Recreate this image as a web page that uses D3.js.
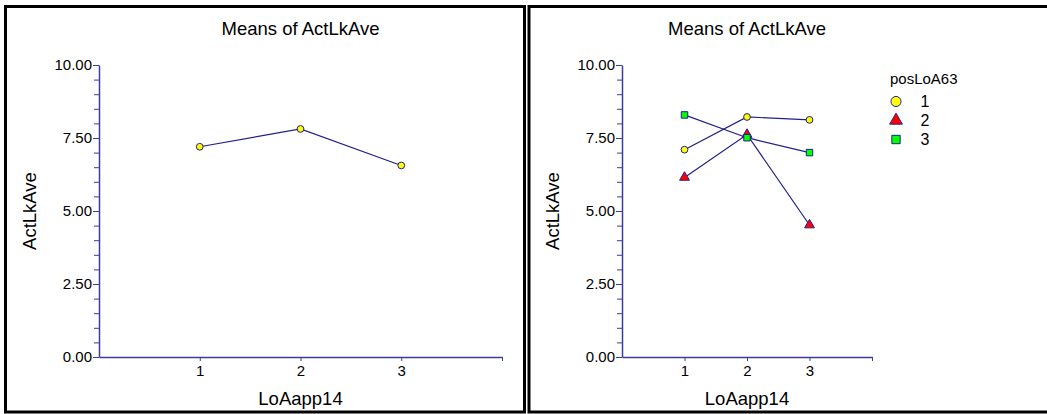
<!DOCTYPE html>
<html>
<head>
<meta charset="utf-8">
<script src="https://cdn.jsdelivr.net/npm/d3@7"></script>
<style>
  html, body { margin: 0; padding: 0; background: #fff; }
  svg { display: block; }
  text { font-family: Arial, "Liberation Sans", sans-serif; fill: #000; }
</style>
</head>
<body>
<script>
// ---- data ----
const categories = [1, 2, 3];
const overallMeans = [7.20, 7.81, 6.56];
const groupNames = ["1", "2", "3"];
const group1Means = [7.10, 8.22, 8.12];
const group2Means = [6.15, 7.62, 4.52];
const group3Means = [8.29, 7.51, 7.00];
const yMajorTicks = [0, 2.5, 5, 7.5, 10];
const yMinorTicks = [0.5, 1, 1.5, 2, 3, 3.5, 4, 4.5, 5.5, 6, 6.5, 7, 8, 8.5, 9, 9.5];
const titleText = "Means of ActLkAve";
const yLabel = "ActLkAve";
const xLabel = "LoAapp14";
const legendTitle = "posLoA63";

const W = 1047, H = 414;
const axisColor = "#3c3ca0";
const lineColor = "#20208c";
const markerStroke = "#20208c";
const markerFill = { circle: "#ffff00", triangle: "#ff0000", square: "#00ff00" };

const svg = d3.select("body").append("svg").attr("width", W).attr("height", H);

// panel borders
svg.append("rect").attr("x", 5.5).attr("y", 6.5).attr("width", 519).attr("height", 405.5)
  .attr("fill", "none").attr("stroke", "#000").attr("stroke-width", 3);
svg.append("rect").attr("x", 529).attr("y", 6.5).attr("width", 530).attr("height", 405.5)
  .attr("fill", "none").attr("stroke", "#000").attr("stroke-width", 3);

function symbolPath(shape, size) {
  const t = shape === "circle" ? d3.symbolCircle : shape === "triangle" ? d3.symbolTriangle : d3.symbolSquare;
  return d3.symbol().type(t).size(size)();
}

function drawPanel(x0, x1, series) {
  const yTop = 65, yBot = 357;
  const x = d3.scaleLinear().domain([0, 4]).range([x0, x1]);
  const y = d3.scaleLinear().domain([0, 10]).range([yBot, yTop]);
  const g = svg.append("g");

  // title
  g.append("text").attr("x", x(2)).attr("y", 35).attr("text-anchor", "middle")
    .style("font-size", "18.5px").text(titleText);

  // y minor ticks
  const yMinor = g.append("g").attr("transform", `translate(${x0},0)`)
    .call(d3.axisLeft(y).tickValues(yMinorTicks).tickSize(5).tickSizeOuter(0).tickFormat(""));
  yMinor.select(".domain").remove();
  yMinor.selectAll("line").attr("stroke", axisColor);

  // y major axis
  const yAx = g.append("g").attr("transform", `translate(${x0},0)`)
    .call(d3.axisLeft(y).tickValues(yMajorTicks).tickSize(6).tickSizeOuter(0).tickPadding(1).tickFormat(d3.format(".2f")));
  yAx.select(".domain").attr("stroke", axisColor).attr("stroke-width", 1.5);
  yAx.selectAll("line").attr("stroke", axisColor);
  yAx.selectAll("text").style("font-size", "15px").style("font-family", 'Arial, "Liberation Sans", sans-serif').attr("fill", "#000");

  // x axis
  const xAx = g.append("g").attr("transform", `translate(0,${yBot})`)
    .call(d3.axisBottom(x).tickValues(categories.concat([4])).tickSize(4).tickSizeOuter(0).tickPadding(4)
      .tickFormat(d => categories.includes(d) ? String(d) : ""));
  xAx.select(".domain").attr("stroke", axisColor).attr("stroke-width", 1.5);
  xAx.selectAll("line").attr("stroke", axisColor);
  xAx.selectAll("text").style("font-size", "15px").style("font-family", 'Arial, "Liberation Sans", sans-serif').attr("fill", "#000");

  // axis labels
  g.append("text").attr("transform", `translate(${x0 - 69},${(yTop + yBot) / 2}) rotate(-90)`)
    .attr("text-anchor", "middle").attr("dy", "0.35em").style("font-size", "18.5px").text(yLabel);
  g.append("text").attr("x", x(2)).attr("y", 405).attr("text-anchor", "middle")
    .style("font-size", "18.5px").text(xLabel);

  // series
  const line = d3.line().x((d, i) => x(categories[i])).y(d => y(d));
  series.forEach(s => {
    g.append("path").attr("d", line(s.values)).attr("fill", "none")
      .attr("stroke", lineColor).attr("stroke-width", 1.2);
  });
  series.forEach(s => {
    g.selectAll(null).data(s.values).enter().append("path")
      .attr("d", symbolPath(s.shape, s.size))
      .attr("transform", (d, i) => `translate(${x(categories[i])},${y(d)})`)
      .attr("fill", markerFill[s.shape]).attr("stroke", markerStroke).attr("stroke-width", 1);
  });
  return { x, y };
}

drawPanel(99, 502, [{ values: overallMeans, shape: "circle", size: 36 }]);
drawPanel(622, 872, [
  { values: group1Means, shape: "circle", size: 36 },
  { values: group2Means, shape: "triangle", size: 42 },
  { values: group3Means, shape: "square", size: 42 }
]);

// legend
const leg = svg.append("g");
leg.append("text").attr("x", 890).attr("y", 84).style("font-size", "15px").text(legendTitle);
const legShapes = ["circle", "triangle", "square"];
const legY = [101.5, 120.5, 139.5];
groupNames.forEach((name, i) => {
  leg.append("path").attr("d", symbolPath(legShapes[i], legShapes[i] === "circle" ? 80 : 70))
    .attr("transform", `translate(896,${legY[i]})`)
    .attr("fill", markerFill[legShapes[i]]).attr("stroke", markerStroke).attr("stroke-width", 1);
  leg.append("text").attr("x", 925).attr("y", legY[i]).attr("dy", "0.36em")
    .attr("text-anchor", "middle").style("font-size", "16px").text(name);
});
</script>
</body>
</html>
